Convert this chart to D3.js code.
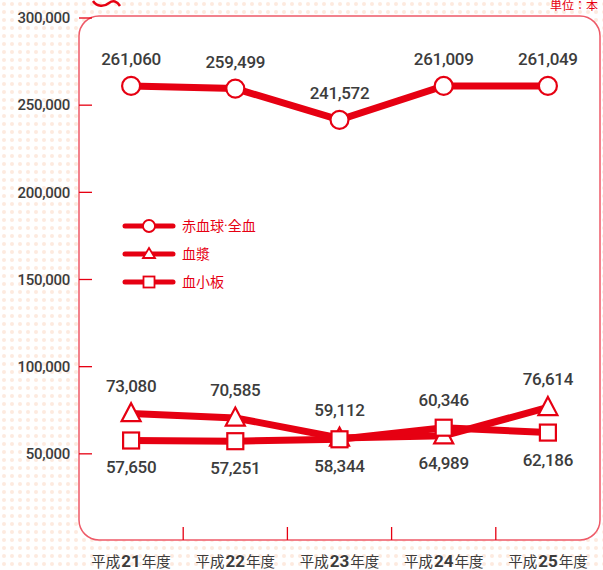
<!DOCTYPE html>
<html>
<head>
<meta charset="utf-8">
<script src="https://d3js.org/d3.v7.min.js"></script>
<style>
  body { margin: 0; background: #fff; }
  text { font-family: "Roboto", "Noto Sans CJK JP", sans-serif; }
</style>
</head>
<body>
<svg width="603" height="570"></svg>
<script>
// data
var years = ["平成21年度", "平成22年度", "平成23年度", "平成24年度", "平成25年度"];
var yearNums = ["21", "22", "23", "24", "25"];
var redCells = [261060, 259499, 241572, 261009, 261049];
var plasma = [73080, 70585, 59112, 60346, 76614];
var platelet = [57650, 57251, 58344, 64989, 62186];
var yTicks = [50000, 100000, 150000, 200000, 250000, 300000];
var seriesNames = ["赤血球·全血", "血漿", "血小板"];

var red = "#e60012";
var svg = d3.select("svg");

// dotted background
var defs = svg.append("defs");
var pat = defs.append("pattern").attr("id", "dots")
  .attr("width", 8).attr("height", 8).attr("patternUnits", "userSpaceOnUse");
pat.append("circle").attr("cx", 4).attr("cy", 4).attr("r", 2).attr("fill", "#fdeadf");
svg.append("rect").attr("width", 603).attr("height", 570).attr("fill", "url(#dots)");

var boxL = 79, boxR = 600, boxT = 16, boxB = 540;

// plot box
svg.append("rect")
  .attr("x", boxL).attr("y", boxT)
  .attr("width", boxR - boxL).attr("height", boxB - boxT)
  .attr("rx", 20).attr("ry", 20)
  .attr("fill", "#fff")
  .attr("stroke", "#ee5a68").attr("stroke-width", 1.5);

var x = d3.scaleBand().domain(years).range([boxL, boxR]);
var y = d3.scaleLinear().domain([0, 300000]).range([541, 18]);

// y ticks
var yAxis = svg.append("g");
yTicks.forEach(function(t) {
  yAxis.append("line")
    .attr("x1", boxL).attr("x2", boxL + 13)
    .attr("y1", y(t)).attr("y2", y(t))
    .attr("stroke", red).attr("stroke-width", 1.3);
  yAxis.append("text")
    .attr("x", 70).attr("y", y(t)).attr("dy", "0.35em")
    .attr("text-anchor", "end")
    .attr("font-size", 15).attr("font-weight", 500).attr("fill", "#3c3c3c")
    .attr("letter-spacing", "-0.3")
    .text(d3.format(",")(t));
});

// x ticks between categories
years.slice(1).forEach(function(d) {
  svg.append("line")
    .attr("x1", x(d)).attr("x2", x(d))
    .attr("y1", boxB).attr("y2", boxB - 13)
    .attr("stroke", red).attr("stroke-width", 1.3);
});

// x labels
years.forEach(function(d, i) {
  var t = svg.append("text")
    .attr("x", x(d) + x.bandwidth() / 2).attr("y", 567)
    .attr("text-anchor", "middle")
    .attr("font-size", 15).attr("fill", "#3c3c3c");
  t.append("tspan").attr("font-family", "Noto Sans CJK JP").attr("font-size", 14.5).text("平成");
  t.append("tspan").attr("font-weight", "bold").attr("font-size", 17).attr("dx", 1).text(yearNums[i]);
  t.append("tspan").attr("font-family", "Noto Sans CJK JP").attr("font-size", 14.5).attr("dx", 1).text("年度");
});

var cx = function(i) { return x(years[i]) + x.bandwidth() / 2; };
var line = d3.line().x(function(d, i) { return cx(i); }).y(function(d) { return y(d); });

function marker(g, type, px, py) {
  if (type === "circle") {
    g.append("circle").attr("cx", px).attr("cy", py).attr("r", 9)
      .attr("fill", "#fff").attr("stroke", red).attr("stroke-width", 2.2);
  } else if (type === "triangle") {
    var s = 19;
    g.append("path")
      .attr("d", "M" + px + "," + (py - s * 0.55) + "L" + (px + s / 2) + "," + (py + s * 0.4) + "L" + (px - s / 2) + "," + (py + s * 0.4) + "Z")
      .attr("fill", "#fff").attr("stroke", red).attr("stroke-width", 2.2);
  } else {
    g.append("rect").attr("x", px - 8).attr("y", py - 8).attr("width", 16).attr("height", 16)
      .attr("fill", "#fff").attr("stroke", red).attr("stroke-width", 2.2);
  }
}

var series = [
  { vals: redCells, type: "circle" },
  { vals: plasma, type: "triangle" },
  { vals: platelet, type: "square" }
];

series.forEach(function(s) {
  svg.append("path").datum(s.vals)
    .attr("d", line)
    .attr("fill", "none").attr("stroke", red).attr("stroke-width", 7);
});
series.forEach(function(s) {
  var g = svg.append("g");
  s.vals.forEach(function(v, i) { marker(g, s.type, cx(i), y(v)); });
});

// value labels
var labelY = {
  redCells: redCells.map(function(v) { return y(v) - 27; }),
  plasma: plasma.map(function(v, i) { return Math.min(y(v), y(platelet[i])) - 28; }),
  platelet: platelet.map(function(v, i) { return Math.max(y(v), y(plasma[i])) + 27; })
};
[[redCells, labelY.redCells], [plasma, labelY.plasma], [platelet, labelY.platelet]].forEach(function(p) {
  p[0].forEach(function(v, i) {
    svg.append("text")
      .attr("x", cx(i)).attr("y", p[1][i]).attr("dy", "0.35em")
      .attr("text-anchor", "middle")
      .attr("font-size", 17).attr("font-weight", 500).attr("fill", "#3c3c3c")
      .attr("letter-spacing", "-0.3")
      .text(d3.format(",")(v));
  });
});

// legend
var types = ["circle", "triangle", "square"];
seriesNames.forEach(function(n, i) {
  var ly = 226 + i * 28;
  var g = svg.append("g");
  g.append("line").attr("x1", 125).attr("x2", 173).attr("y1", ly).attr("y2", ly)
    .attr("stroke", red).attr("stroke-width", 5).attr("stroke-linecap", "round");
  if (types[i] === "circle") {
    g.append("circle").attr("cx", 149).attr("cy", ly).attr("r", 6)
      .attr("fill", "#fff").attr("stroke", red).attr("stroke-width", 1.8);
  } else if (types[i] === "triangle") {
    g.append("path").attr("d", "M149," + (ly - 6) + "L155," + (ly + 4) + "L143," + (ly + 4) + "Z")
      .attr("fill", "#fff").attr("stroke", red).attr("stroke-width", 1.8);
  } else {
    g.append("rect").attr("x", 143.5).attr("y", ly - 5.5).attr("width", 11).attr("height", 11)
      .attr("fill", "#fff").attr("stroke", red).attr("stroke-width", 1.8);
  }
  g.append("text").attr("x", 182).attr("y", ly).attr("dy", "0.35em")
    .attr("font-family", "Noto Sans CJK JP").attr("font-size", 14).attr("fill", red)
    .text(n);
});

// unit and decoration at top
svg.append("text").attr("x", 598).attr("y", 10).attr("text-anchor", "end")
  .attr("font-family", "Noto Sans CJK JP").attr("font-size", 12).attr("fill", red)
  .text("単位：本");
svg.append("path").attr("d", "M93,1 C97,7 104,7 109,3 C113,0 117,1 120,6")
  .attr("fill", "none").attr("stroke", red).attr("stroke-width", 2.5);
</script>
</body>
</html>
